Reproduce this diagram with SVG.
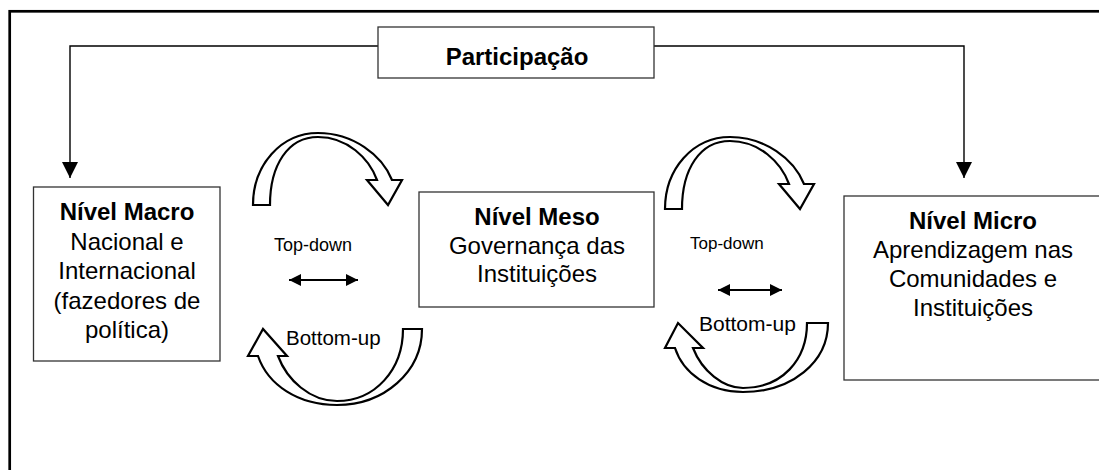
<svg xmlns="http://www.w3.org/2000/svg" width="1099" height="470" viewBox="0 0 1099 470">
  <style>
    .box { fill: #fff; stroke: #333; stroke-width: 1.3; }
    .t { font-family: "Liberation Sans", Arial, sans-serif; font-size: 24px; fill: #000; text-anchor: middle; }
    .b { font-weight: bold; }
    .lbl { font-family: "Liberation Sans", Arial, sans-serif; fill: #000; }
    .curve { fill: #fff; stroke: #000; stroke-width: 2.2; stroke-linejoin: miter; }
    .conn { fill: none; stroke: #000; stroke-width: 1.4; }
    .dbl { fill: none; stroke: #000; stroke-width: 2.2; }
  </style>
  <defs>
    <marker id="tri" viewBox="0 0 10 10" refX="10" refY="5" markerWidth="16" markerHeight="16" markerUnits="userSpaceOnUse" orient="auto">
      <path d="M0,0 L10,5 L0,10 Z" fill="#000"/>
    </marker>
    <marker id="tri2" viewBox="0 0 10 10" refX="10" refY="5" markerWidth="12" markerHeight="12" markerUnits="userSpaceOnUse" orient="auto-start-reverse">
      <path d="M0,0 L10,5 L0,10 Z" fill="#000"/>
    </marker>
    <!-- curved top-down arrow, tail on the left, head on the right -->
    <path id="arcDown" d="M253,205 C253,165 281,133 318,133 C353,133 382,155 392,180 L402,180 L388,205 L367,180 L377,180 C369,158 347,137 318,137 C288,137 270,165 270,205 Z"/>
  </defs>

  <!-- outer frame -->
  <rect x="9.7" y="11.3" width="1100" height="470" fill="#fff" stroke="#000" stroke-width="2.7"/>

  <!-- connectors -->
  <g id="connectors">
    <path class="conn" d="M378,46 H70 V178" marker-end="url(#tri)"/>
    <path class="conn" d="M654,46 H964 V178" marker-end="url(#tri)"/>
    <use href="#arcDown" class="curve"/>
    <use href="#arcDown" class="curve" transform="translate(412,4)"/>
    <path class="curve" d="M422,329 C422,372 384,405 337,405 C298,405 268,385 258,356 L248,356 L263,329 L287,356 L278,356 C287,380 310,401 337,401 C375,401 403,370 403,329 Z"/>
    <path class="curve" d="M828,323 C828,362 792,392 743,392 C709,392 683,373 675,348 L665,348 L678,323 L703,348 L693,348 C702,371 723,388 743,388 C782,388 807,360 807,323 Z"/>
    <line class="dbl" x1="289" y1="280" x2="358" y2="280" marker-start="url(#tri2)" marker-end="url(#tri2)"/>
    <line class="dbl" x1="718" y1="290" x2="782" y2="290" marker-start="url(#tri2)" marker-end="url(#tri2)"/>
    <text class="lbl" x="274" y="251" font-size="18">Top-down</text>
    <text class="lbl" x="690" y="249" font-size="17">Top-down</text>
    <text class="lbl" x="286" y="345" font-size="20.5">Bottom-up</text>
    <text class="lbl" x="699" y="331" font-size="21">Bottom-up</text>
  </g>

  <g id="participacao">
    <rect class="box" x="378" y="27" width="276" height="51"/>
    <text class="t b" x="517" y="65" font-size="23.5">Participação</text>
  </g>

  <g id="macro">
    <rect class="box" x="33.5" y="187" width="186.5" height="174"/>
    <text class="t" x="127" y="220"><tspan class="b">Nível Macro</tspan><tspan x="127" dy="29.5">Nacional e</tspan><tspan x="127" dy="29.5">Internacional</tspan><tspan x="127" dy="29.5">(fazedores de</tspan><tspan x="127" dy="29.5">política)</tspan></text>
  </g>

  <g id="meso">
    <rect class="box" x="419" y="192" width="235" height="115"/>
    <text class="t" x="537" y="225"><tspan class="b">Nível Meso</tspan><tspan x="537" dy="28.5">Governança das</tspan><tspan x="537" dy="28.5">Instituições</tspan></text>
  </g>

  <g id="micro">
    <rect class="box" x="844" y="196" width="258" height="184"/>
    <text class="t" x="973" y="229"><tspan class="b">Nível Micro</tspan><tspan x="973" dy="29">Aprendizagem nas</tspan><tspan x="973" dy="29">Comunidades e</tspan><tspan x="973" dy="29">Instituições</tspan></text>
  </g>
</svg>
